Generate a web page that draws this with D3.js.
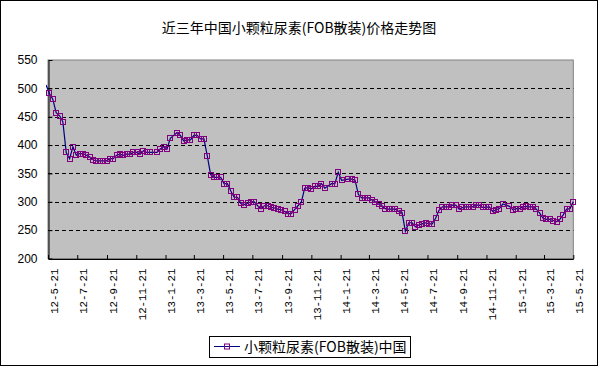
<!DOCTYPE html>
<html><head><meta charset="utf-8">
<script src="https://cdn.jsdelivr.net/npm/d3@7"></script>
<style>body{margin:0;background:#fff}</style>
</head><body>
<svg id="c" width="598" height="366"></svg>
<script>
const title = "近三年中国小颗粒尿素(FOB散装)价格走势图";
const seriesName = "小颗粒尿素(FOB散装)中国";
// weekly prices (USD/t), first entry dated 2012-05-17, one entry per week; null = no quote that week
const firstDate = "2012-05-17";
const prices = [506,
 491,481,457,452,441,387,376,397,382,385,385,382,379,374,372,372,372,372,376,376,
 382,384,382,384,384,387,387,384,390,387,387,null,387,393,397,393,412,null,422,417,
 407,409,409,417,417,411,411,381,348,343,343,343,332,332,319,308,308,297,295,297,
 300,300,293,288,293,293,290,289,287,286,283,279,279,286,293,299,324,325,323,327,
 327,332,324,null,332,332,352,338,null,340,340,338,313,307,307,307,303,300,296,293,
 288,287,287,287,283,281,248,263,263,256,259,261,263,261,261,271,285,291,291,291,
 294,294,287,290,291,291,291,294,294,290,290,291,283,286,288,296,null,292,286,288,
 288,291,292,291,291,287,280,271,269,269,267,265,269,277,287,288,300];
const yTicks = [200,250,300,350,400,450,500,550];
const xTickDates = ["2012-05-21","2012-07-21","2012-09-21","2012-11-21","2013-01-21","2013-03-21",
 "2013-05-21","2013-07-21","2013-09-21","2013-11-21","2014-01-21","2014-03-21","2014-05-21",
 "2014-07-21","2014-09-21","2014-11-21","2015-01-21","2015-03-21","2015-05-21"];
const xTickLabels = ["12-5-21","12-7-21","12-9-21","12-11-21","13-1-21","13-3-21","13-5-21",
 "13-7-21","13-9-21","13-11-21","14-1-21","14-3-21","14-5-21","14-7-21","14-9-21","14-11-21",
 "15-1-21","15-3-21","15-5-21"];

const parse = d3.utcParse("%Y-%m-%d");
const t0 = parse(firstDate);
const data = prices.map((v,i)=>({date:d3.utcDay.offset(t0, 7*i), value:v})).filter(d=>d.value!==null);
const tickDates = xTickDates.map(parse);

const svg = d3.select("#c");
const W=598,H=366;
const L=48, R=573.3, T=60, B=258.5;

svg.append("rect").attr("x",0.5).attr("y",0.5).attr("width",W-1).attr("height",H-1)
  .attr("fill","#fff").attr("stroke","#000");

const x = d3.scaleUtc().domain([tickDates[0], tickDates[tickDates.length-1]]).range([L,R]);
const y = d3.scaleLinear().domain([200,550]).range([B,T]);

svg.append("text").attr("x",299).attr("y",33).attr("text-anchor","middle")
  .attr("font-family","'Noto Sans CJK SC'").attr("font-size",14).attr("fill","#000").text(title);

svg.append("rect").attr("x",L).attr("y",T).attr("width",R-L).attr("height",B-T)
  .attr("fill","#c0c0c0").attr("stroke","#808080");

// grid
svg.append("g").selectAll("line").data(yTicks.filter(v=>v>200&&v<550)).join("line")
  .attr("x1",L).attr("x2",R).attr("y1",d=>Math.round(y(d))+0.5).attr("y2",d=>Math.round(y(d))+0.5)
  .attr("stroke","#000").attr("stroke-dasharray","4,3");

// y axis
const ya = svg.append("g").attr("transform",`translate(${L+0.5},0)`)
  .call(d3.axisLeft(y).tickValues(yTicks).tickSizeInner(-4).tickSizeOuter(0).tickPadding(11));
ya.select(".domain").attr("stroke","#000");
ya.selectAll(".tick line").attr("stroke","#000");
ya.selectAll("text").attr("font-family","'Liberation Sans',Arial").attr("font-size",12).attr("fill","#000");

// x axis
const xa = svg.append("g").attr("transform",`translate(0,${B+0.5})`)
  .call(d3.axisBottom(x).tickValues(tickDates).tickFormat((d,i)=>xTickLabels[i]).tickSizeInner(-4).tickSizeOuter(0));
xa.select(".domain").attr("stroke","#000");
xa.selectAll(".tick line").attr("stroke","#000");
xa.selectAll("text").attr("font-family","'Liberation Mono','DejaVu Sans Mono',monospace").attr("font-size",10.8).attr("fill","#000")
  .attr("text-anchor","end").attr("transform","translate(5.5,9.5) rotate(-90)").attr("x",0).attr("y",0).attr("dy","0.35em");

// line
svg.append("defs").append("clipPath").attr("id","clip").append("rect")
  .attr("x",L-2).attr("y",0).attr("width",R-L+4).attr("height",H);
svg.append("path").datum(data).attr("clip-path","url(#clip)")
  .attr("d",d3.line().x(d=>x(d.date)).y(d=>y(d.value)))
  .attr("fill","none").attr("stroke","#000080").attr("stroke-width",1.2);
svg.append("g").selectAll("rect").data(data.filter(d=>d.date>=tickDates[0])).join("rect")
  .attr("x",d=>Math.round(x(d.date))-2.5).attr("y",d=>Math.round(y(d.value))-2.5)
  .attr("width",5).attr("height",5).attr("fill","none").attr("stroke","#800080").attr("stroke-width",1);

// legend
const lg = svg.append("g");
lg.append("rect").attr("x",209.5).attr("y",336.5).attr("width",201).attr("height",21)
  .attr("fill","#fff").attr("stroke","#000");
lg.append("line").attr("x1",214).attr("x2",240).attr("y1",346.5).attr("y2",346.5).attr("stroke","#000080");
lg.append("rect").attr("x",224.5).attr("y",344).attr("width",5).attr("height",5).attr("fill","none").attr("stroke","#800080");
lg.append("text").attr("x",244).attr("y",352).attr("font-family","'Noto Sans CJK SC'").attr("font-size",14)
  .attr("fill","#000").text(seriesName);
</script>
</body></html>
